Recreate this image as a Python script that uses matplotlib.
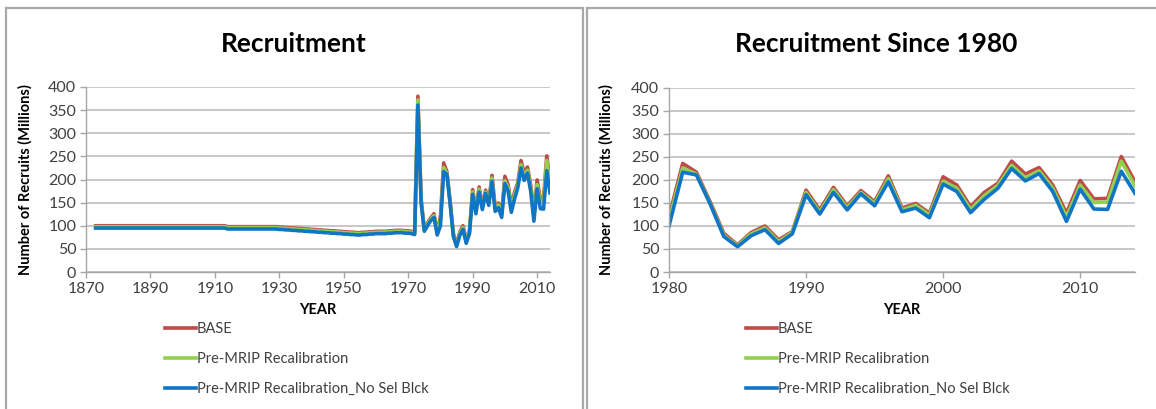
import matplotlib
matplotlib.use("Agg")
import matplotlib.pyplot as plt
from matplotlib.patches import Rectangle

plt.rcParams['font.family'] = ['Lato', 'DejaVu Sans']

# ---- data ----
early_years = list(range(1873, 1980))

base_early = [100] * 41 + [
    98, 98, 98, 98, 98, 98, 98, 98, 98, 98, 98, 98, 98, 98, 98, 98,   # 1914-1929
    97, 97, 96, 96, 95, 95,                                           # 1930-1935
    94, 94, 93, 93, 92, 92, 91, 91, 90, 90,                           # 1936-1945
    89, 89, 88, 88, 87, 87, 86, 86, 85, 85,                           # 1946-1955
    86, 86, 87, 87, 88, 88, 88, 88, 89, 89,                           # 1956-1965
    90, 90, 90, 89, 89, 88, 86,                                       # 1966-1972
    380, 158, 92, 106, 117, 126, 86]                                  # 1973-1979
premrip_early = [98] * 41 + [
    96, 96, 96, 96, 96, 96, 96, 96, 96, 96, 96, 96, 96, 96, 96, 96,
    95, 95, 94, 94, 93, 93,
    92, 92, 91, 91, 90, 90, 89, 89, 88, 88,
    87, 87, 86, 86, 85, 85, 84, 84, 83, 83,
    84, 84, 85, 85, 86, 86, 86, 86, 87, 87,
    88, 88, 88, 87, 87, 86, 84,
    372, 154, 90, 103, 114, 122, 84]
noselblk_early = [95] * 41 + [
    93, 93, 93, 93, 93, 93, 93, 93, 93, 93, 93, 93, 93, 93, 93, 93,
    92, 92, 91, 91, 90, 90,
    89, 89, 88, 88, 87, 87, 86, 86, 85, 85,
    84, 84, 83, 83, 82, 82, 81, 81, 80, 80,
    81, 81, 82, 82, 83, 83, 83, 83, 84, 84,
    85, 85, 85, 84, 84, 83, 81,
    361, 150, 88, 100, 111, 118, 80]

years = list(range(1980, 2015))
base = [120, 236, 217, 153, 84, 59, 86, 100, 70, 88,
        178, 135, 184, 144, 177, 153, 209, 139, 149, 128,
        207, 189, 142, 173, 193, 241, 213, 227, 189, 128,
        199, 159, 160, 251, 196]
premrip = [112, 226, 213, 150, 80, 57, 83, 96, 66, 86,
           173, 130, 179, 140, 173, 149, 203, 135, 145, 124,
           197, 182, 136, 166, 188, 232, 205, 220, 182, 120,
           189, 151, 152, 241, 187]
noselblk = [100, 217, 211, 148, 77, 55, 79, 92, 62, 83,
            168, 126, 173, 135, 170, 144, 196, 131, 139, 118,
            191, 175, 129, 158, 182, 225, 198, 214, 175, 110,
            180, 137, 136, 219, 171]

series_names = ['BASE', 'Pre-MRIP Recalibration', 'Pre-MRIP Recalibration_No Sel Blck']
colors = ['#BE4B48', '#92D050', '#0F75C4']

W, H = 1156, 409
fig = plt.figure(figsize=(W / 100, H / 100), dpi=100)


def px(x0, y_top, x1, y_bot):
    # pixel box -> figure fraction rect
    return [x0 / W, 1 - y_bot / H, (x1 - x0) / W, (y_bot - y_top) / H]


# panel frames
for x0, x1 in [(6, 583), (587, 1160)]:
    fig.patches.append(Rectangle((x0 / W, -0.1), (x1 - x0) / W, 1.1 - 8 / H,
                                 transform=fig.transFigure, fill=False,
                                 edgecolor='#A8A8A8', linewidth=1.6, zorder=0))


def draw_panel(rect, title, title_x, xs, ys_list, xticks, xlim, ylab_x, leg_x):
    ax = fig.add_axes(rect)
    for ys, c, n in zip(ys_list, colors, series_names):
        ax.plot(xs, ys, color=c, linewidth=2.6, label=n)
    ax.set_xlim(*xlim)
    ax.set_ylim(0, 400)
    ax.set_yticks(range(0, 401, 50))
    ax.set_xticks(xticks)
    ax.grid(axis='y', color='#BEBEBE', linewidth=1.2)
    ax.set_axisbelow(True)
    for s in ['top', 'right']:
        ax.spines[s].set_visible(False)
    for s in ['left', 'bottom']:
        ax.spines[s].set_color('#A6A6A6')
        ax.spines[s].set_linewidth(1.0)
    ax.tick_params(axis='both', colors='#A6A6A6', labelcolor='#404040',
                   labelsize=11.5, length=4, width=1.0)
    ax.tick_params(axis='y', pad=3)
    ax.set_xlabel('YEAR', fontsize=10.5, fontweight='bold', labelpad=5)
    ax.set_ylabel('Number of Recruits (Millions)', fontsize=10.5, fontweight='bold')
    ax.yaxis.set_label_coords((ylab_x - rect[0] * W) / (rect[2] * W), 0.5)
    fig.text(title_x / W, 1 - 44 / H, title, fontsize=19, fontweight='bold',
             ha='center', va='center')
    leg = ax.legend(loc='upper left', bbox_to_anchor=(leg_x / W, 1 - 322 / H),
                    bbox_transform=fig.transFigure, frameon=False, fontsize=10.5,
                    handlelength=2.1, handletextpad=0.1, labelspacing=1.1,
                    borderaxespad=0, borderpad=0)
    for t in leg.get_texts():
        t.set_color('#404040')
    return ax


draw_panel(px(86, 87, 550, 272), 'Recruitment', 294,
           early_years + years,
           [base_early + base, premrip_early + premrip, noselblk_early + noselblk],
           range(1870, 2011, 20), (1870, 2014), 33, 165)

draw_panel(px(669, 88, 1135, 272), 'Recruitment Since 1980', 876,
           years, [base, premrip, noselblk],
           range(1980, 2011, 10), (1980, 2014), 614, 746)

fig.savefig('out.png', dpi=100)
